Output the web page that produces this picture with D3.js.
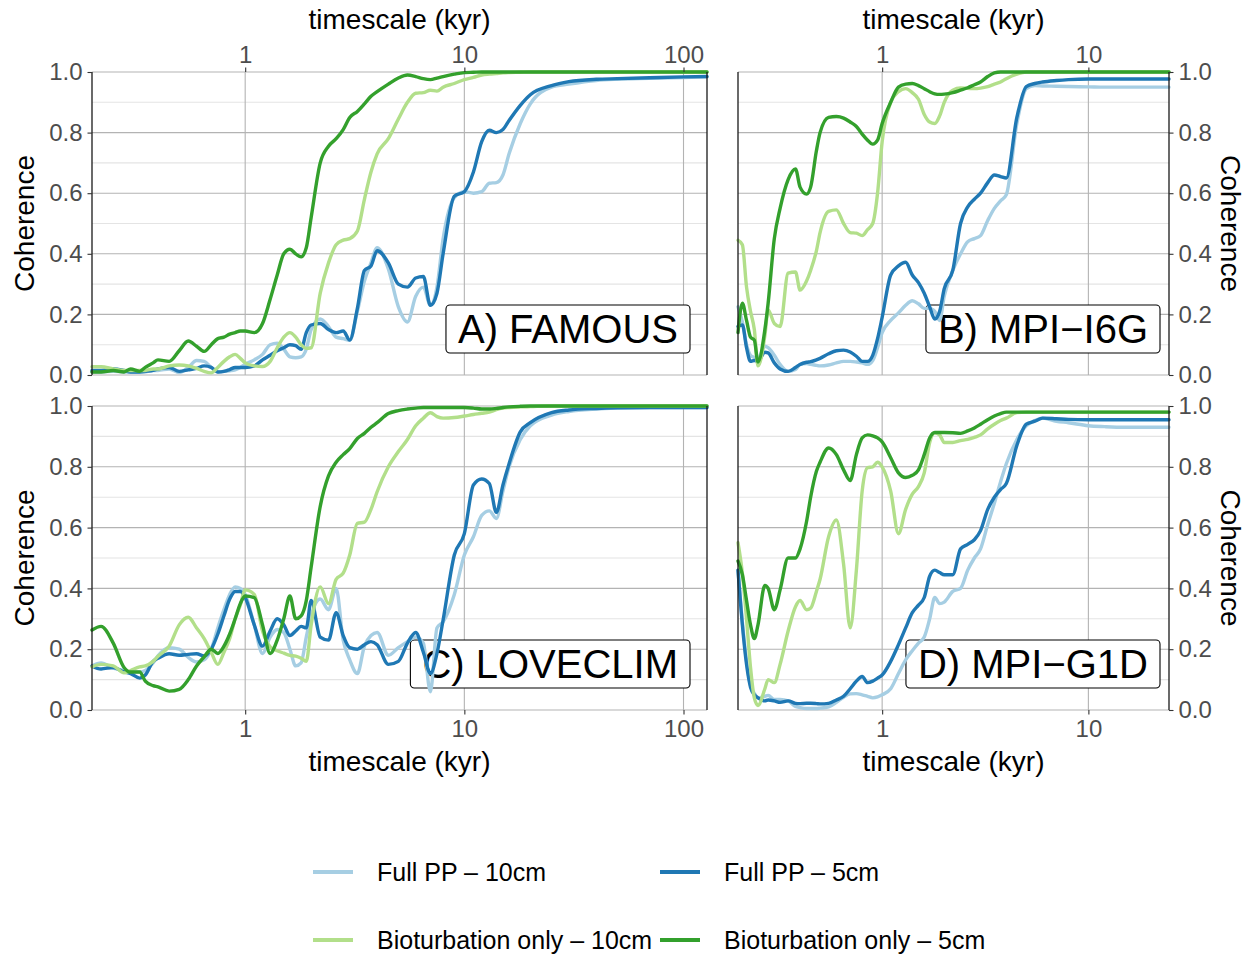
<!DOCTYPE html>
<html>
<head>
<meta charset="utf-8">
<script src="https://cdn.jsdelivr.net/npm/d3@7"></script>
<style>
  body { margin: 0; background: #fff; }
  svg { display: block; font-family: 'Liberation Sans', Arial, sans-serif; }
  .grid-major { stroke: #b3b3b3; stroke-width: 1.1; }
  .grid-minor { stroke: #e4e4e4; stroke-width: 1.1; }
  .axis text { fill: #4d4d4d; }
  .axis line { stroke: #333; stroke-width: 1.1; }
  .axis path { display: none; }
  .title { font-size: 28px; fill: #000; }
  .panel-label { font-size: 40px; fill: #000; }
  .legend text { font-size: 25px; fill: #000; }
</style>
</head>
<body>
<script>

// timescale grids (kyr)
var tLong = [0.2,0.22,0.25,0.28,0.3,0.33,0.35,0.38,0.4,0.45,
  0.5,0.55,0.6,0.65,0.7,0.75,0.8,0.85,0.9,0.95,
  1,1.1,1.2,1.3,1.4,1.5,1.6,1.7,1.8,1.9,
  2,2.2,2.4,2.6,2.8,3,3.25,3.5,3.75,4,
  4.5,5,5.5,6,6.5,7,7.5,8,9,10,
  11,12,13,14,15,16,18,20,25,30,40,50,70,100,128];

var tShort = [0.2,0.21,0.22,0.23,0.24,0.25,0.27,0.28,0.3,0.32,
  0.35,0.38,0.4,0.43,0.45,0.48,0.5,0.55,0.6,0.65,
  0.7,0.75,0.8,0.85,0.9,0.95,1,1.1,1.2,1.3,
  1.4,1.5,1.6,1.7,1.8,1.9,2,2.2,2.4,2.6,
  2.8,3,3.25,3.5,3.75,4,4.5,5,5.5,6,
  7,8,10,12,15,20,24.6];

// A) FAMOUS
var famousPP10 = [0.01,0.01,0.012,0.01,0.01,0.01,0.01,0.015,0.015,0.02,
  0.008,0.025,0.048,0.045,0.025,0.01,0.012,0.014,0.017,0.025,
  0.035,0.05,0.068,0.10,0.105,0.085,0.06,0.057,0.06,0.085,
  0.15,0.185,0.16,0.125,0.12,0.115,0.21,0.31,0.37,0.42,
  0.35,0.225,0.175,0.26,0.29,0.23,0.29,0.45,0.585,0.605,
  0.60,0.605,0.633,0.635,0.66,0.73,0.83,0.895,0.95,0.96,0.972,0.976,0.979,0.982,0.984];
var famousPP5 = [0.015,0.015,0.02,0.015,0.01,0.01,0.012,0.015,0.02,0.025,
  0.012,0.017,0.022,0.03,0.025,0.01,0.012,0.018,0.025,0.025,
  0.025,0.03,0.05,0.065,0.08,0.09,0.10,0.097,0.085,0.14,
  0.165,0.17,0.15,0.14,0.145,0.115,0.22,0.345,0.36,0.41,
  0.37,0.30,0.29,0.32,0.325,0.23,0.27,0.40,0.59,0.605,
  0.67,0.77,0.808,0.80,0.81,0.84,0.89,0.925,0.955,0.968,0.976,0.978,0.981,0.984,0.985];
var famousBio10 = [0.027,0.027,0.02,0.015,0.015,0.015,0.015,0.02,0.02,0.03,
  0.033,0.03,0.022,0.012,0.007,0.025,0.045,0.06,0.068,0.055,
  0.04,0.03,0.028,0.045,0.09,0.125,0.14,0.125,0.10,0.088,
  0.09,0.27,0.37,0.43,0.445,0.45,0.475,0.58,0.67,0.73,
  0.78,0.845,0.90,0.93,0.932,0.94,0.937,0.95,0.962,0.975,
  0.982,0.99,0.993,0.995,0.997,0.998,0.999,1,1,1,1,1,1,1,1];
var famousBio5 = [0.01,0.01,0.015,0.01,0.02,0.012,0.025,0.04,0.05,0.045,
  0.08,0.112,0.095,0.078,0.10,0.12,0.125,0.135,0.14,0.145,
  0.145,0.14,0.17,0.25,0.33,0.40,0.415,0.40,0.39,0.42,
  0.52,0.70,0.755,0.78,0.81,0.85,0.87,0.895,0.92,0.935,
  0.96,0.98,0.99,0.985,0.978,0.975,0.98,0.985,0.993,0.998,
  0.999,1,1,1,1,1,1,1,1,1,1,1,1,1,1];

// B) MPI-I6G
var mpiI6gPP10 = [0.225,0.175,0.10,0.065,0.058,0.055,0.095,0.09,0.065,0.035,
  0.012,0.018,0.035,0.038,0.035,0.032,0.03,0.033,0.04,0.045,
  0.045,0.043,0.04,0.035,0.048,0.09,0.14,0.18,0.205,0.23,
  0.245,0.235,0.22,0.22,0.21,0.18,0.26,0.345,0.40,0.44,
  0.45,0.46,0.51,0.55,0.575,0.595,0.83,0.945,0.955,0.954,
  0.953,0.952,0.951,0.95,0.95,0.95,0.95];
var mpiI6gPP5 = [0.16,0.165,0.09,0.045,0.048,0.045,0.075,0.073,0.04,0.02,
  0.012,0.025,0.035,0.042,0.044,0.05,0.055,0.07,0.08,0.082,
  0.076,0.062,0.045,0.045,0.065,0.12,0.19,0.33,0.36,0.372,
  0.33,0.305,0.27,0.225,0.185,0.21,0.285,0.345,0.50,0.555,
  0.58,0.60,0.635,0.66,0.655,0.65,0.85,0.952,0.962,0.967,
  0.972,0.975,0.977,0.977,0.977,0.977,0.977];
var mpiI6gBio10 = [0.445,0.43,0.29,0.21,0.15,0.03,0.13,0.215,0.17,0.16,
  0.336,0.34,0.28,0.31,0.345,0.41,0.47,0.54,0.545,0.50,
  0.47,0.468,0.46,0.48,0.50,0.60,0.77,0.90,0.935,0.945,
  0.932,0.91,0.86,0.835,0.83,0.855,0.90,0.94,0.947,0.946,
  0.945,0.947,0.952,0.96,0.967,0.978,0.993,1,1,1,
  1,1,1,1,1,1,1];
var mpiI6gBio5 = [0.14,0.237,0.18,0.125,0.115,0.043,0.15,0.237,0.45,0.55,
  0.645,0.68,0.62,0.597,0.62,0.74,0.80,0.85,0.853,0.848,
  0.835,0.82,0.795,0.775,0.762,0.775,0.83,0.90,0.95,0.96,
  0.962,0.955,0.945,0.935,0.928,0.926,0.927,0.932,0.94,0.948,
  0.958,0.967,0.985,0.997,1,1,1,1,1,1,
  1,1,1,1,1,1,1];

// C) LOVECLIM
var loveclimPP10 = [0.145,0.155,0.138,0.13,0.125,0.125,0.13,0.155,0.178,0.205,
  0.20,0.173,0.158,0.165,0.20,0.27,0.33,0.38,0.405,0.40,
  0.38,0.28,0.186,0.24,0.265,0.255,0.20,0.145,0.155,0.24,
  0.31,0.365,0.33,0.40,0.23,0.165,0.12,0.21,0.245,0.255,
  0.18,0.205,0.225,0.24,0.22,0.06,0.27,0.29,0.38,0.51,
  0.57,0.64,0.655,0.63,0.72,0.80,0.89,0.935,0.97,0.982,0.99,0.993,0.995,0.995,0.995];
var loveclimPP5 = [0.145,0.135,0.14,0.125,0.12,0.105,0.115,0.16,0.17,0.185,
  0.18,0.183,0.185,0.178,0.20,0.25,0.31,0.365,0.39,0.39,
  0.37,0.28,0.21,0.26,0.30,0.28,0.245,0.26,0.275,0.27,
  0.36,0.24,0.23,0.32,0.245,0.205,0.20,0.215,0.225,0.215,
  0.15,0.16,0.22,0.255,0.19,0.12,0.186,0.296,0.51,0.58,
  0.74,0.76,0.745,0.65,0.74,0.81,0.915,0.945,0.978,0.987,0.992,0.994,0.995,0.995,0.995];
var loveclimBio10 = [0.142,0.15,0.145,0.122,0.13,0.142,0.145,0.16,0.177,0.21,
  0.28,0.305,0.27,0.235,0.19,0.15,0.19,0.235,0.30,0.345,
  0.395,0.38,0.26,0.208,0.195,0.187,0.18,0.177,0.17,0.16,
  0.28,0.405,0.35,0.43,0.45,0.51,0.614,0.618,0.66,0.718,
  0.80,0.85,0.89,0.935,0.96,0.978,0.965,0.96,0.962,0.967,
  0.972,0.976,0.98,0.988,0.993,0.995,0.997,0.998,1,1,1,1,1,1,1];
var loveclimBio5 = [0.263,0.275,0.22,0.14,0.125,0.125,0.095,0.08,0.076,0.062,
  0.068,0.10,0.145,0.175,0.20,0.186,0.21,0.25,0.30,0.35,
  0.375,0.37,0.28,0.186,0.23,0.30,0.375,0.30,0.31,0.36,
  0.47,0.67,0.77,0.815,0.84,0.86,0.893,0.91,0.93,0.945,
  0.975,0.985,0.99,0.993,0.995,0.995,0.995,0.995,0.995,0.995,
  0.993,0.99,0.99,0.992,0.995,0.997,0.999,1,1,1,1,1,1,1,1];

// D) MPI-G1D
var mpiG1dPP10 = [0.46,0.29,0.16,0.08,0.055,0.04,0.045,0.048,0.035,0.035,
  0.03,0.012,0.008,0.005,0.005,0.005,0.006,0.01,0.025,0.042,
  0.053,0.054,0.05,0.045,0.04,0.043,0.05,0.07,0.12,0.165,
  0.195,0.22,0.24,0.30,0.37,0.35,0.355,0.39,0.40,0.46,
  0.50,0.53,0.61,0.68,0.75,0.81,0.89,0.935,0.952,0.96,
  0.95,0.945,0.935,0.932,0.93,0.93,0.93];
var mpiG1dPP5 = [0.46,0.28,0.15,0.075,0.05,0.04,0.03,0.033,0.03,0.025,
  0.03,0.022,0.021,0.022,0.022,0.021,0.02,0.022,0.033,0.045,
  0.07,0.095,0.11,0.09,0.095,0.105,0.115,0.16,0.215,0.27,
  0.32,0.345,0.37,0.44,0.46,0.452,0.445,0.445,0.53,0.545,
  0.56,0.59,0.66,0.70,0.725,0.745,0.87,0.94,0.95,0.96,
  0.958,0.956,0.955,0.955,0.955,0.955,0.955];
var mpiG1dBio10 = [0.55,0.45,0.30,0.14,0.04,0.015,0.07,0.10,0.09,0.15,
  0.26,0.34,0.36,0.33,0.335,0.39,0.43,0.57,0.625,0.48,
  0.27,0.46,0.72,0.797,0.80,0.815,0.80,0.72,0.58,0.66,
  0.71,0.735,0.78,0.88,0.912,0.905,0.88,0.88,0.886,0.89,
  0.897,0.905,0.925,0.94,0.952,0.96,0.978,0.98,0.98,0.98,
  0.98,0.98,0.98,0.98,0.98,0.98,0.98];
var mpiG1dBio5 = [0.49,0.445,0.36,0.28,0.235,0.28,0.41,0.40,0.33,0.395,
  0.50,0.50,0.53,0.62,0.70,0.785,0.815,0.862,0.84,0.79,
  0.755,0.84,0.895,0.905,0.902,0.895,0.882,0.83,0.78,0.765,
  0.772,0.79,0.84,0.895,0.913,0.913,0.913,0.912,0.91,0.918,
  0.928,0.94,0.955,0.967,0.975,0.98,0.98,0.98,0.98,0.98,
  0.98,0.98,0.98,0.98,0.98,0.98,0.98];

var seriesNames = ["Full PP \u2013 10cm", "Full PP \u2013 5cm", "Bioturbation only \u2013 10cm", "Bioturbation only \u2013 5cm"];
var seriesColors = ["#a6cee3", "#1f78b4", "#b2df8a", "#33a02c"];

var yTicks = [0, 0.2, 0.4, 0.6, 0.8, 1.0];
var yMinor = [0.1, 0.3, 0.5, 0.7, 0.9];
var xTicks = [1, 10, 100];

var svg = d3.select("body").append("svg")
    .attr("width", 1255)
    .attr("height", 956);

var panels = [
  {label: "A) FAMOUS", t: tLong, series: [famousPP10, famousPP5, famousBio10, famousBio5],
   x0: 92, x1: 707, y0: 72, y1: 375, ySide: "left", xSide: "top", inset: 17},
  {label: "B) MPI\u2212I6G", t: tShort, series: [mpiI6gPP10, mpiI6gPP5, mpiI6gBio10, mpiI6gBio5],
   x0: 738, x1: 1169, y0: 72, y1: 375, ySide: "right", xSide: "top", inset: 9},
  {label: "C) LOVECLIM", t: tLong, series: [loveclimPP10, loveclimPP5, loveclimBio10, loveclimBio5],
   x0: 92, x1: 707, y0: 406, y1: 710, ySide: "left", xSide: "bottom", inset: 17},
  {label: "D) MPI\u2212G1D", t: tShort, series: [mpiG1dPP10, mpiG1dPP5, mpiG1dBio10, mpiG1dBio5],
   x0: 738, x1: 1169, y0: 406, y1: 710, ySide: "right", xSide: "bottom", inset: 9}
];

panels.forEach(function(p) {
  var x = d3.scaleLog().domain(d3.extent(p.t)).range([p.x0, p.x1]);
  var y = d3.scaleLinear().domain([0, 1]).range([p.y1, p.y0]);
  var g = svg.append("g");

  // grid
  g.selectAll(".grid-minor").data(yMinor).enter().append("line")
    .attr("class", "grid-minor")
    .attr("x1", p.x0).attr("x2", p.x1)
    .attr("y1", function(d) { return y(d); })
    .attr("y2", function(d) { return y(d); });

  g.selectAll(".grid-y").data(yTicks).enter().append("line")
    .attr("class", "grid-major grid-y")
    .attr("x1", p.x0).attr("x2", p.x1)
    .attr("y1", function(d) { return y(d); })
    .attr("y2", function(d) { return y(d); });

  var xt = xTicks.filter(function(d) { return d >= x.domain()[0] && d <= x.domain()[1]; });
  g.selectAll(".grid-x").data(xt).enter().append("line")
    .attr("class", "grid-major grid-x")
    .attr("x1", function(d) { return x(d); })
    .attr("x2", function(d) { return x(d); })
    .attr("y1", p.y0).attr("y2", p.y1);

  // panel label box
  var lab = g.append("g");
  var txt = lab.append("text")
    .attr("class", "panel-label")
    .attr("text-anchor", "end")
    .attr("x", p.x1 - p.inset - 12)
    .attr("y", p.y1 - 46 + 14)
    .text(p.label);
  var w = txt.node().getComputedTextLength();
  lab.insert("rect", "text")
    .attr("x", p.x1 - p.inset - w - 24)
    .attr("y", p.y1 - 70)
    .attr("width", w + 24)
    .attr("height", 48)
    .attr("rx", 4)
    .attr("fill", "#fff")
    .attr("stroke", "#000")
    .attr("stroke-width", 1.1);

  // data lines
  var line = d3.line()
    .x(function(d) { return x(d[0]); })
    .y(function(d) { return y(d[1]); })
    .curve(d3.curveMonotoneX);

  p.series.forEach(function(vals, i) {
    g.append("path")
      .datum(d3.zip(p.t, vals))
      .attr("d", line)
      .attr("fill", "none")
      .attr("stroke", seriesColors[i])
      .attr("stroke-width", 3.4)
      .attr("stroke-linejoin", "round")
      .attr("stroke-linecap", "round");
  });

  // vertical panel edges
  g.selectAll(".edge").data([p.x0, p.x1]).enter().append("line")
    .attr("x1", function(d) { return d; })
    .attr("x2", function(d) { return d; })
    .attr("y1", p.y0).attr("y2", p.y1)
    .attr("stroke", "#1a1a1a")
    .attr("stroke-width", 1.3);

  // axes
  var yAxis = (p.ySide === "left" ? d3.axisLeft(y) : d3.axisRight(y))
    .tickValues(yTicks).tickFormat(d3.format(".1f"))
    .tickSize(4.5).tickPadding(5);
  g.append("g").attr("class", "axis")
    .attr("transform", "translate(" + (p.ySide === "left" ? p.x0 : p.x1) + ",0)")
    .call(yAxis);

  var xAxis = (p.xSide === "top" ? d3.axisTop(x) : d3.axisBottom(x))
    .tickValues(xt).tickFormat(d3.format("d"))
    .tickSize(4.5).tickPadding(5);
  g.append("g").attr("class", "axis")
    .attr("transform", "translate(0," + (p.xSide === "top" ? p.y0 : p.y1) + ")")
    .call(xAxis);

  g.selectAll(".axis")
    .attr("font-size", 24)
    .attr("font-family", "'Liberation Sans', Arial, sans-serif");

  // titles
  svg.append("text")
    .attr("class", "title")
    .attr("text-anchor", "middle")
    .attr("x", (p.x0 + p.x1) / 2)
    .attr("y", p.xSide === "top" ? 29 : 771)
    .text("timescale (kyr)");

  var cy = (p.y0 + p.y1) / 2;
  svg.append("text")
    .attr("class", "title")
    .attr("text-anchor", "middle")
    .attr("transform", p.ySide === "left"
      ? "translate(34," + cy + ") rotate(-90)"
      : "translate(1221," + cy + ") rotate(90)")
    .text("Coherence");
});

// legend, 2 x 2
var legend = svg.append("g").attr("class", "legend");
var legendCols = [313, 660];
var legendRows = [872, 940];

seriesNames.forEach(function(name, i) {
  var lx = legendCols[i % 2];
  var ly = legendRows[Math.floor(i / 2)];
  legend.append("line")
    .attr("x1", lx).attr("x2", lx + 40)
    .attr("y1", ly).attr("y2", ly)
    .attr("stroke", seriesColors[i])
    .attr("stroke-width", 4);
  legend.append("text")
    .attr("x", lx + 64)
    .attr("y", ly)
    .attr("dy", "0.35em")
    .text(name);
});

</script>
</body>
</html>
